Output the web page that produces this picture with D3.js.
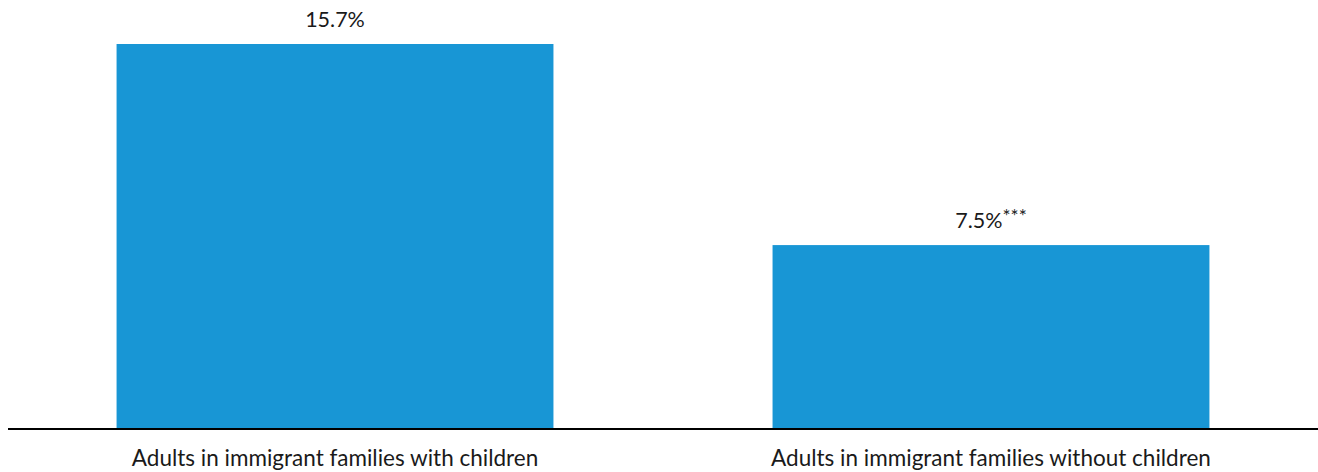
<!DOCTYPE html>
<html>
<head>
<meta charset="utf-8">
<script src="https://cdn.jsdelivr.net/npm/d3@7"></script>
<style>
  body { margin: 0; background: #fff; }
  svg text { font-family: Lato, "Open Sans", sans-serif; fill: #1a1a1a; }
</style>
</head>
<body>
<svg id="chart"></svg>
<script>
"use strict";

let width = 1318;
let height = 472;

// chart data
let categories = ["Adults in immigrant families with children", "Adults in immigrant families without children"];
let values = [15.7, 7.5];
let valueLabels = ["15.7%", "7.5%"];
let markers = ["", "***"];

let svg = d3.select("#chart")
  .attr("width", width)
  .attr("height", height);

let baseY = 429;

// X Scale
let x = d3.scaleBand()
  .domain(categories)
  .range([8, width])
  .paddingInner(0.334)
  .paddingOuter(0.1655);

// Y Scale
let y = d3.scaleLinear()
  .domain([0, 15.7])
  .range([baseY, 44]);

// Bars
svg.selectAll("rect.bar")
  .data(values)
  .enter()
  .append("rect")
  .attr("class", "bar")
  .attr("x", (d, i) => x(categories[i]))
  .attr("y", d => y(d))
  .attr("width", x.bandwidth())
  .attr("height", d => baseY - y(d))
  .style("fill", "#1896d5");

// Value labels
let labels = svg.selectAll("text.value")
  .data(values)
  .enter()
  .append("text")
  .attr("class", "value")
  .attr("x", (d, i) => x(categories[i]) + x.bandwidth() / 2)
  .attr("y", d => y(d) - 17.5)
  .attr("text-anchor", "middle")
  .style("font-size", "21.5px");
labels.append("tspan").text((d, i) => valueLabels[i]);
labels.append("tspan")
  .attr("dy", "-0.25em")
  .style("font-size", "19px")
  .text((d, i) => markers[i]);

// Axis
let xAxis = svg.append("g")
  .attr("transform", `translate(0,${baseY})`)
  .call(d3.axisBottom(x).tickSize(0).tickPadding(21));
xAxis.select(".domain")
  .attr("d", `M8,0H${width}`)
  .style("stroke", "#000")
  .style("stroke-width", 2);
xAxis.selectAll(".tick text")
  .style("font-size", "22.5px")
  .style("font-family", "Lato, 'Open Sans', sans-serif")
  .style("fill", "#1a1a1a");
</script>
</body>
</html>
